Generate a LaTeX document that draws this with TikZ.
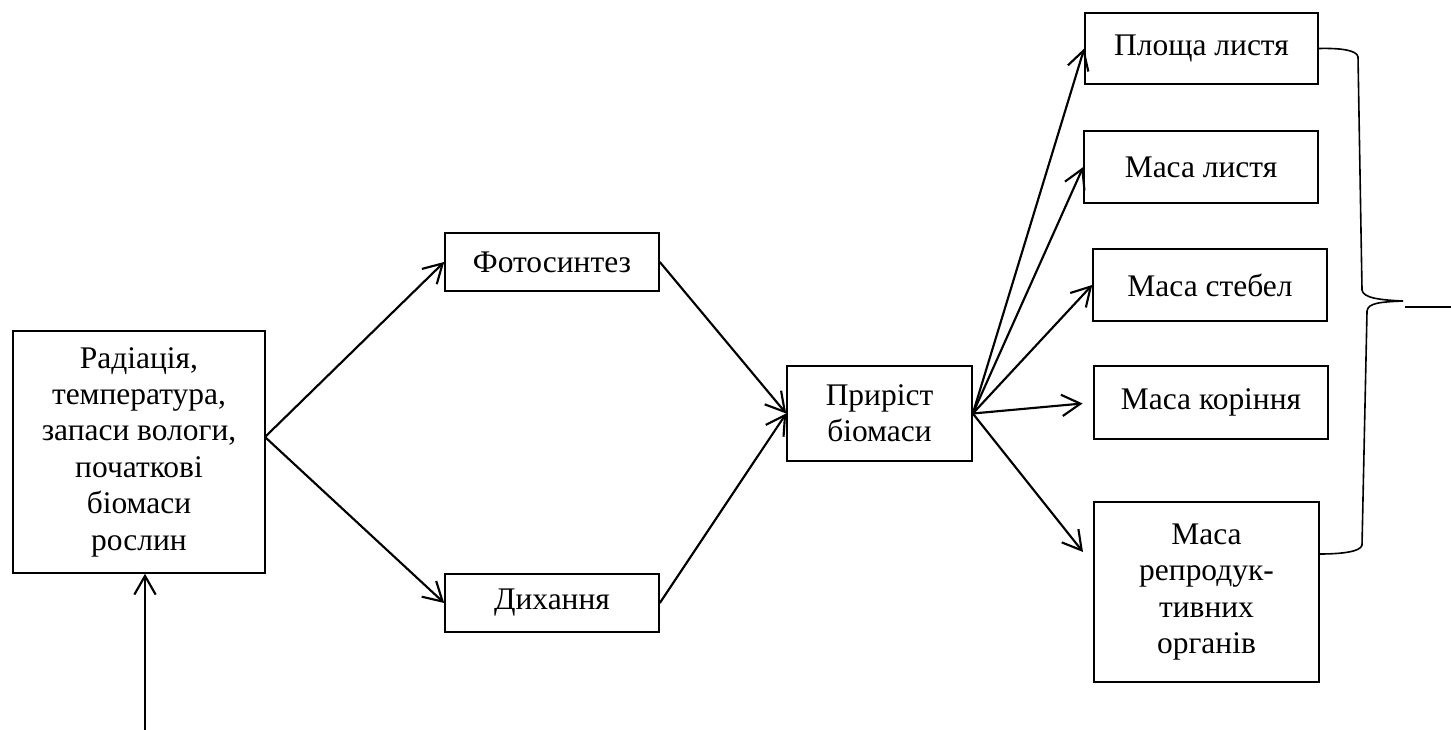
\documentclass[tikz,border=0pt]{standalone}
\usepackage{fontspec}
\setmainfont{Liberation Serif}
\usetikzlibrary{arrows.meta}
\begin{document}
\begin{tikzpicture}[x=0.75pt,y=-0.75pt,
  box/.style={draw,line width=1.2pt,align=center,inner sep=0pt,font=\fontsize{23.6}{27.3}\selectfont},
  arr/.style={line width=1.6pt,-{Straight Barb[length=14pt,width=16pt,line width=1.6pt]}}]
  \useasboundingbox (0,0) rectangle (1451,730);
  % left column
  \node[box,minimum width=189pt,minimum height=181.5pt] (inputs) at (139,452)
    {Радіація,\\температура,\\запаси вологи,\\початкові\\біомаси\\рослин};
  \node[box,minimum width=160.5pt,minimum height=43.5pt] (photo) at (552,262) {Фотосинтез};
  \node[box,minimum width=160.5pt,minimum height=43.5pt] (resp) at (552,603) {Дихання};
  \node[box,minimum width=138.75pt,minimum height=71.25pt] (growth) at (879.5,413.5) {Приріст\\біомаси};
  % right column
  \node[box,minimum width=174.75pt,minimum height=53.25pt] (leafarea) at (1201.5,48.5) {Площа листя};
  \node[box,minimum width=175.5pt,minimum height=54pt] (leafmass) at (1201,167) {Маса листя};
  \node[box,minimum width=175.5pt,minimum height=54pt] (stem) at (1210,285) {Маса стебел};
  \node[box,minimum width=175.5pt,minimum height=54.75pt] (root) at (1211,402.5) {Маса коріння};
  \node[box,minimum width=168.75pt,minimum height=135pt] (repr) at (1206.5,592)
    {Маса\\репродук-\\тивних\\органів};

  \coordinate (src) at (145,730);
  \coordinate (fork) at (265,437);
  \coordinate (reprin) at (1083,552);
  \coordinate (tip) at (1403,301);
  \coordinate (out) at (1451,307);

  \draw[arr] (src) -- (src |- inputs.south);
  \draw[arr] (fork) -- (photo.west);
  \draw[arr] (fork) -- (resp.west);
  \draw[arr] (photo.east) -- (growth.west);
  \draw[arr] (resp.east) -- (growth.west);
  \foreach \t in {leafarea,leafmass,stem} \draw[arr] (growth.east) -- (\t.west);
  \draw[arr,shorten >=8pt] (growth.east) -- (root.west);
  \draw[arr] (growth.east) -- (reprin);

  % brace
  \draw[line width=1.2pt] (leafarea.east) .. controls (1340,48) and (1357,50) .. (1358,57)
    -- (1362,290) .. controls (1363,298) and (1380,300) .. (tip)
    .. controls (1380,302) and (1368,303) .. (1367,311)
    -- (1362,545) .. controls (1361,552) and (1340,554) .. (repr.east |- 0,554);
  \draw[line width=1.2pt] (1405,307) -- (out);
\end{tikzpicture}
\end{document}
